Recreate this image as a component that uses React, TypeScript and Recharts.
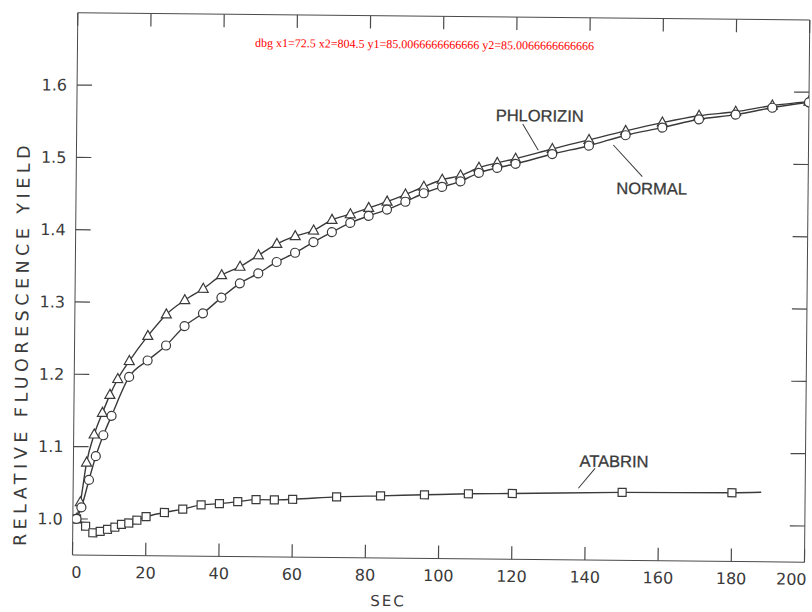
import React from 'react';
import { LineChart, Line, XAxis, YAxis, ReferenceLine } from 'recharts';

// ---- data ----
const phlorizinTime = [1, 2, 3.6, 5.6, 7.8, 9.8, 11.9, 15, 20, 25, 30, 35, 40, 45, 50, 55, 60, 65, 70, 75, 80, 85, 90, 95, 100, 105, 110, 115, 120, 130, 140, 150, 160, 170, 180, 190, 200];
const phlorizinYield = [1.0, 1.023, 1.078, 1.117, 1.147, 1.172, 1.194, 1.219, 1.254, 1.284, 1.304, 1.32, 1.339, 1.351, 1.367, 1.383, 1.394, 1.402, 1.417, 1.425, 1.434, 1.443, 1.453, 1.464, 1.474, 1.48, 1.491, 1.498, 1.504, 1.518, 1.531, 1.544, 1.556, 1.566, 1.572, 1.581, 1.587];

const normalTime = [1, 2.3, 4.3, 6.1, 8.1, 10.3, 15, 20, 25, 30, 35, 40, 45, 50, 55, 60, 65, 70, 75, 80, 85, 90, 95, 100, 105, 110, 115, 120, 130, 140, 150, 160, 170, 180, 190, 200];
const normalYield = [1.0, 1.016, 1.054, 1.087, 1.116, 1.143, 1.197, 1.22, 1.241, 1.268, 1.286, 1.308, 1.328, 1.342, 1.358, 1.371, 1.386, 1.4, 1.413, 1.423, 1.432, 1.443, 1.455, 1.464, 1.472, 1.484, 1.491, 1.497, 1.511, 1.523, 1.538, 1.549, 1.561, 1.568, 1.578, 1.586];

const atabrinTime = [1, 3.5, 5.5, 7.5, 9.5, 11.5, 13.3, 15.3, 17.5, 20, 25, 30, 35, 40, 45, 50, 55, 60, 72, 84, 96, 108, 120, 150, 180, 188];
const atabrinYield = [1.0, 0.99, 0.981, 0.983, 0.986, 0.989, 0.993, 0.995, 0.999, 1.004, 1.01, 1.015, 1.021, 1.023, 1.026, 1.029, 1.029, 1.03, 1.034, 1.036, 1.038, 1.04, 1.041, 1.044, 1.045, 1.046];

const xTicks = [0, 20, 40, 60, 80, 100, 120, 140, 160, 180, 200];
const yTicks = [1.0, 1.1, 1.2, 1.3, 1.4, 1.5, 1.6];
const yDomain = [0.95, 1.7];

const phlorizinData = phlorizinTime.map((t, i) => ({ t, v: phlorizinYield[i] }));
const normalData = normalTime.map((t, i) => ({ t, v: normalYield[i] }));
const atabrinData = atabrinTime.map((t, i) => ({ t, v: atabrinYield[i] }));

// ---- styling ----
const INK = '#3a3a3a';
const AXIS = '#4a4a4a';
const TICK_FONT = '"DejaVu Sans", sans-serif';
const LABEL_FONT = '"Liberation Sans", Arial, sans-serif';
const X_TICK_LEN = 13;
const Y_TICK_LEN = 15;

const XTick = (props: any) => {
  const { x, y, payload } = props;
  const shift = payload.value === 0 ? 4 : payload.value === 200 ? -13 : 0;
  return (
    <text x={x + shift} y={y} dy="0.73em" textAnchor="middle" fontFamily={TICK_FONT} fontSize={16} fill={INK}>
      {payload.value}
    </text>
  );
};

const YTick = (props: any) => {
  const { x, y, payload } = props;
  return (
    <text x={x} y={y} dy="0.36em" textAnchor="end" fontFamily={TICK_FONT} fontSize={16} fill={INK}>
      {Number(payload.value).toFixed(1)}
    </text>
  );
};

const XTickMarks = (p: any) => {
  const x = Number(p.x1);
  const top = Math.min(Number(p.y1), Number(p.y2));
  const bot = Math.max(Number(p.y1), Number(p.y2));
  return (
    <g>
      <path d={`M${x},${bot}V${bot - X_TICK_LEN}M${x},${top}V${top + X_TICK_LEN}`} stroke={AXIS} strokeWidth={1.2} fill="none" />
    </g>
  );
};

const YTickMarks = (p: any) => {
  const y = Number(p.y1);
  const a = Number(p.x1);
  const b = Number(p.x2);
  const left = Math.min(a, b);
  const right = Math.max(a, b);
  return (
    <g>
      <path d={`M${right},${y}H${right - Y_TICK_LEN}`} stroke={AXIS} strokeWidth={1.2} fill="none" />
      <path d={`M${left},${y}H${left + Y_TICK_LEN}`} stroke={AXIS} strokeWidth={1.2} fill="none" />
      {Math.abs(y - 85) < 3 ? (
        <text x={250} y={45} fontSize={12} fill="red">{`dbg x1=${p.x1} x2=${p.x2} y1=${p.y1} y2=${p.y2}`}</text>
      ) : null}
    </g>
  );
};

const CircleDot = (props: any) => {
  const { cx, cy } = props;
  if (cx == null || cy == null) return <g />;
  return <circle cx={cx} cy={cy} r={4.5} fill="#fff" stroke={INK} strokeWidth={1.2} />;
};

const TriangleDot = (props: any) => {
  const { cx, cy } = props;
  if (cx == null || cy == null) return <g />;
  const pts = `${cx},${cy - 5.5} ${cx - 5},${cy + 3.5} ${cx + 5},${cy + 3.5}`;
  return <polygon points={pts} fill="#fff" stroke={INK} strokeWidth={1.2} />;
};

const SquareDot = (props: any) => {
  const { cx, cy, index } = props;
  if (cx == null || cy == null || index === atabrinTime.length - 1) return <g />;
  return <rect x={cx - 4} y={cy - 4} width={8} height={8} fill="#fff" stroke={INK} strokeWidth={1.2} />;
};

export default function App() {
  return (
    <div style={{ position: 'absolute', left: 0, top: 0, width: 812, height: 612, overflow: 'hidden', background: '#fff' }}>
      <div style={{ position: 'absolute', left: 0, top: 0, width: 812, height: 612, transform: 'rotate(0.56deg)', transformOrigin: '72px 555px' }}>
        <LineChart width={812} height={612} margin={{ top: 2.7, right: 2.5, bottom: 27, left: 12.5 }}>
          <XAxis
            type="number"
            dataKey="t"
            domain={[0, 200]}
            ticks={xTicks}
            interval={0}
            orientation="bottom"
            height={30}
            tickSize={0}
            tickLine={false}
            tickMargin={11}
            tick={<XTick />}
            stroke={AXIS}
            allowDataOverflow
          />
          <XAxis
            xAxisId="top"
            type="number"
            domain={[0, 200]}
            orientation="top"
            height={10}
            tick={false}
            tickLine={false}
            stroke={AXIS}
          />
          <YAxis
            type="number"
            domain={yDomain}
            ticks={yTicks}
            interval={0}
            width={60}
            tickSize={0}
            tickLine={false}
            tickMargin={10}
            tick={<YTick />}
            stroke={AXIS}
            allowDataOverflow
          />
          <YAxis
            yAxisId="lm"
            type="number"
            orientation="left"
            mirror
            domain={yDomain}
            ticks={yTicks}
            interval={0}
            tickSize={Y_TICK_LEN}
            tick={false}
            axisLine={false}
            stroke={AXIS}
          />
          <YAxis
            yAxisId="r"
            type="number"
            orientation="right"
            domain={yDomain}
            width={5}
            tick={false}
            tickLine={false}
            stroke={AXIS}
          />
          {xTicks.map((t) => (
            <ReferenceLine key={`xt${t}`} x={t} shape={XTickMarks} ifOverflow="visible" />
          ))}
          {yTicks.map((v) => (
            <ReferenceLine key={`yt${v}`} y={v} shape={YTickMarks} ifOverflow="visible" />
          ))}
          <Line data={atabrinData} dataKey="v" type="monotone" stroke={INK} strokeWidth={1.4} dot={<SquareDot />} activeDot={false} isAnimationActive={false} />
          <Line data={phlorizinData} dataKey="v" type="monotone" stroke={INK} strokeWidth={1.4} dot={<TriangleDot />} activeDot={false} isAnimationActive={false} />
          <Line data={normalData} dataKey="v" type="monotone" stroke={INK} strokeWidth={1.4} dot={<CircleDot />} activeDot={false} isAnimationActive={false} />
        </LineChart>
        <svg width={812} height={612} style={{ position: 'absolute', left: 0, top: 0, pointerEvents: 'none' }}>
          <g fontFamily={LABEL_FONT} fontSize={16.5} fill={INK} stroke={INK} strokeWidth={0.3}>
            <text x={535.4} y={110.9} textAnchor="middle" dominantBaseline="central">PHLORIZIN</text>
            <text x={648.1} y={182.6} textAnchor="middle" dominantBaseline="central">NORMAL</text>
            <text x={613.1} y={455.7} textAnchor="middle" dominantBaseline="central">ATABRIN</text>
          </g>
          <g stroke={INK} strokeWidth={1}>
            <line x1={518.5} y1={119.6} x2={534.3} y2={145.7} />
            <line x1={609.3} y1={139.7} x2={638.6} y2={171.1} />
            <line x1={594.2} y1={463.2} x2={577.7} y2={483.3} />
          </g>
          <text x={388.5} y={598} textAnchor="middle" dominantBaseline="central" fontFamily={TICK_FONT} fontSize={15} letterSpacing={2} fill={INK}>SEC</text>
          <text
            x={19.9}
            y={344}
            transform="rotate(-90 19.9 344)"
            textAnchor="middle"
            dominantBaseline="central"
            fontFamily={TICK_FONT}
            fontSize={17.5}
            letterSpacing={4.5}
            fill={INK}
          >
            RELATIVE FLUORESCENCE YIELD
          </text>
        </svg>
      </div>
    </div>
  );
}
